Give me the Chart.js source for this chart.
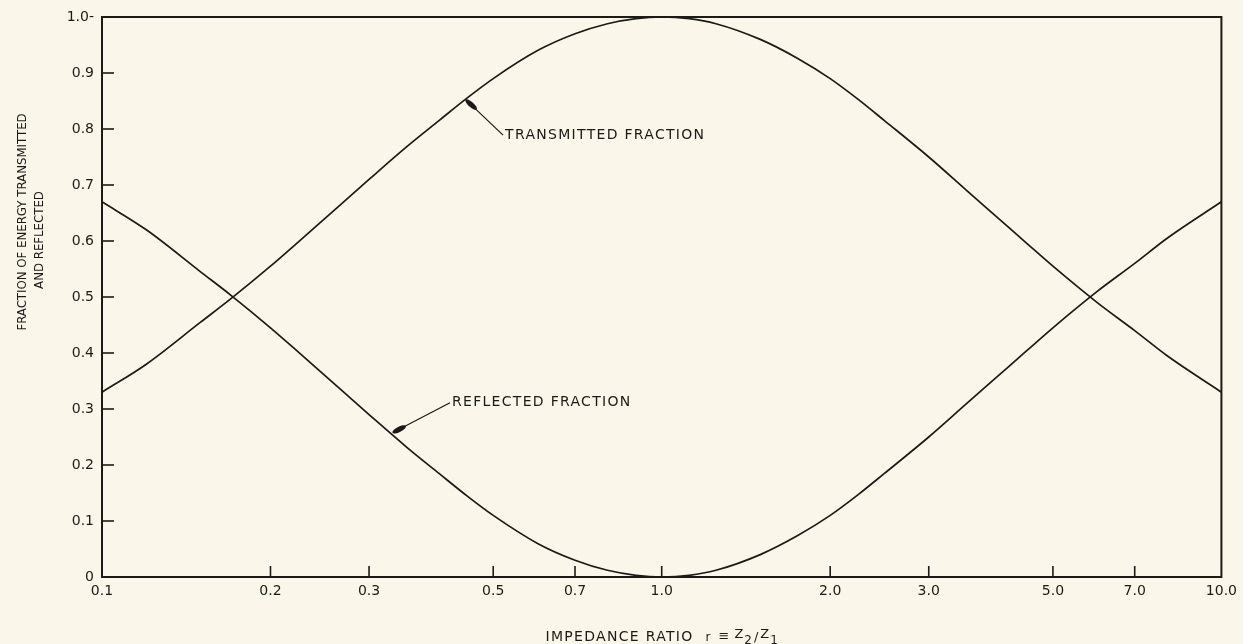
<!DOCTYPE html>
<html>
<head>
<meta charset="utf-8">
<script src="https://cdn.jsdelivr.net/npm/chart.js@4.4.1/dist/chart.umd.min.js"></script>
<style>
  html, body { margin: 0; padding: 0; background: #fbf6ea; }
  #wrap { width: 1243px; height: 644px; }
</style>
</head>
<body>
<div id="wrap"><canvas id="myChart" width="1243" height="644"></canvas></div>
<script>
// values
const impedanceRatios = [0.1, 0.12, 0.15, 0.17, 0.2, 0.22, 0.25, 0.3, 0.35, 0.4, 0.45, 0.5, 0.6, 0.7, 0.8, 0.9, 1.0, 1.12, 1.25, 1.5, 1.75, 2.0, 2.25, 2.5, 3.0, 3.5, 4.0, 4.5, 5.0, 6.0, 7.0, 8.0, 10.0];
const transmittedFraction = [0.33, 0.38, 0.455, 0.497, 0.555, 0.591, 0.64, 0.71, 0.768, 0.815, 0.856, 0.89, 0.94, 0.97, 0.988, 0.997, 1.0, 0.997, 0.988, 0.96, 0.926, 0.89, 0.852, 0.815, 0.75, 0.691, 0.64, 0.595, 0.555, 0.49, 0.44, 0.395, 0.33];
const reflectedFraction = [0.67, 0.62, 0.545, 0.503, 0.445, 0.409, 0.36, 0.29, 0.232, 0.185, 0.144, 0.11, 0.06, 0.03, 0.012, 0.003, 0.0, 0.003, 0.012, 0.04, 0.074, 0.11, 0.148, 0.185, 0.25, 0.309, 0.36, 0.405, 0.445, 0.51, 0.56, 0.605, 0.67];

const xTickValues = [0.1, 0.2, 0.3, 0.5, 0.7, 1, 2, 3, 5, 7, 10];
const xTickLabels = ['0.1', '0.2', '0.3', '0.5', '0.7', '1.0', '2.0', '3.0', '5.0', '7.0', '10.0'];
const yTickLabels = ['0', '0.1', '0.2', '0.3', '0.4', '0.5', '0.6', '0.7', '0.8', '0.9', '1.0-'];

// callouts: text start and arrow tip, in data units
const noteTexts = ['TRANSMITTED FRACTION', 'REFLECTED FRACTION'];
const noteTextAt = [[0.525, 0.789], [0.422, 0.311]];
const noteTipAt = [[0.447, 0.852], [0.331, 0.258]];

const ink = '#1c1a17';
const paper = '#fbf6ea';

function drawLine(ctx, x1, y1, x2, y2) {
  ctx.beginPath();
  ctx.moveTo(x1, y1);
  ctx.lineTo(x2, y2);
  ctx.stroke();
}

const paperPlugin = {
  id: 'paper',
  beforeDraw(chart) {
    const ctx = chart.ctx;
    ctx.save();
    ctx.fillStyle = paper;
    ctx.fillRect(0, 0, chart.width, chart.height);
    ctx.restore();
  },
  afterDraw(chart) {
    const { ctx, chartArea, scales } = chart;
    const { left, right, top, bottom } = chartArea;
    ctx.save();
    ctx.strokeStyle = ink;
    ctx.fillStyle = ink;

    // frame
    ctx.lineWidth = 2;
    ctx.strokeRect(left, top, right - left, bottom - top);

    // inward tick marks
    ctx.lineWidth = 1.6;
    scales.y.ticks.forEach((t) => {
      if (t.value <= 0 || t.value >= 1) return;
      const y = scales.y.getPixelForValue(t.value);
      drawLine(ctx, left, y, left + 12, y);
    });
    scales.x.ticks.forEach((t) => {
      if (t.value <= 0.1 || t.value >= 10) return;
      const x = scales.x.getPixelForValue(t.value);
      drawLine(ctx, x, bottom, x, bottom - 11);
    });

    // callouts with arrows
    ctx.font = '14px "DejaVu Sans"';
    ctx.letterSpacing = '1.3px';
    ctx.textBaseline = 'middle';
    noteTexts.forEach((txt, i) => {
      const tx = scales.x.getPixelForValue(noteTextAt[i][0]);
      const ty = scales.y.getPixelForValue(noteTextAt[i][1]);
      const px = scales.x.getPixelForValue(noteTipAt[i][0]);
      const py = scales.y.getPixelForValue(noteTipAt[i][1]);
      ctx.lineWidth = 1.2;
      drawLine(ctx, px, py, tx - 2, ty);
      const ang = Math.atan2(ty - py, tx - px);
      ctx.beginPath();
      ctx.ellipse(px + Math.cos(ang) * 7, py + Math.sin(ang) * 7, 7.5, 2.6, ang, 0, Math.PI * 2);
      ctx.fill();
      ctx.textAlign = 'left';
      ctx.fillText(txt, tx, ty);
    });

    // x axis title with subscripts
    ctx.textBaseline = 'alphabetic';
    ctx.textAlign = 'left';
    const parts = [
      { t: 'IMPEDANCE RATIO', f: '14px "DejaVu Sans"', s: 1.3, dy: 0, gap: 12 },
      { t: 'r', f: '12px "DejaVu Sans"', s: 0, dy: 0, gap: 8 },
      { t: '\u2261', f: '13px "DejaVu Sans"', s: 0, dy: -1, gap: 5 },
      { t: 'Z', f: '13px "DejaVu Sans"', s: 0, dy: -3, gap: 1 },
      { t: '2', f: '12px "DejaVu Sans"', s: 0, dy: 3, gap: 2 },
      { t: '/', f: '13px "DejaVu Sans"', s: 0, dy: 0, gap: 2 },
      { t: 'Z', f: '13px "DejaVu Sans"', s: 0, dy: -3, gap: 1 },
      { t: '1', f: '12px "DejaVu Sans"', s: 0, dy: 3, gap: 0 }
    ];
    let total = 0;
    parts.forEach((p) => {
      ctx.font = p.f;
      ctx.letterSpacing = p.s + 'px';
      p.w = ctx.measureText(p.t).width;
      total += p.w + p.gap;
    });
    let cx = (left + right) / 2 - total / 2;
    parts.forEach((p) => {
      ctx.font = p.f;
      ctx.letterSpacing = p.s + 'px';
      ctx.fillText(p.t, cx, 641 + p.dy);
      cx += p.w + p.gap;
    });

    // y axis title, two lines
    ctx.font = '12.5px "DejaVu Sans"';
    ctx.letterSpacing = '0px';
    ctx.textAlign = 'center';
    ctx.textBaseline = 'middle';
    ctx.save();
    ctx.translate(23, 222);
    ctx.rotate(-Math.PI / 2);
    ctx.scale(0.94, 1);
    ctx.fillText('FRACTION OF ENERGY TRANSMITTED', 0, 0);
    ctx.restore();
    ctx.save();
    ctx.translate(40, 240);
    ctx.rotate(-Math.PI / 2);
    ctx.scale(0.94, 1);
    ctx.fillText('AND REFLECTED', 0, 0);
    ctx.restore();

    ctx.restore();
  }
};

const ctx = document.getElementById('myChart').getContext('2d');

new Chart(ctx, {
  type: 'line',
  data: {
    datasets: [
      {
        label: 'Transmitted fraction',
        data: impedanceRatios.map((r, i) => ({ x: r, y: transmittedFraction[i] })),
        borderColor: ink,
        borderWidth: 1.7,
        pointRadius: 0,
        fill: false,
        cubicInterpolationMode: 'monotone'
      },
      {
        label: 'Reflected fraction',
        data: impedanceRatios.map((r, i) => ({ x: r, y: reflectedFraction[i] })),
        borderColor: ink,
        borderWidth: 1.7,
        pointRadius: 0,
        fill: false,
        cubicInterpolationMode: 'monotone'
      }
    ]
  },
  options: {
    responsive: false,
    animation: false,
    layout: { padding: { top: 17, right: 18, left: 0, bottom: 0 } },
    plugins: {
      legend: { display: false },
      tooltip: { enabled: false }
    },
    scales: {
      x: {
        type: 'logarithmic',
        min: 0.1,
        max: 10,
        grid: { display: false, drawTicks: false },
        border: { display: false },
        afterBuildTicks: (scale) => {
          scale.ticks = xTickValues.map((v) => ({ value: v }));
        },
        afterFit: (scale) => { scale.height = 67; },
        ticks: {
          autoSkip: false,
          maxRotation: 0,
          padding: 6,
          color: ink,
          font: { family: 'DejaVu Sans', size: 14 },
          callback: (value) => {
            const idx = xTickValues.indexOf(value);
            return idx >= 0 ? xTickLabels[idx] : '';
          }
        }
      },
      y: {
        type: 'linear',
        min: 0,
        max: 1,
        grid: { display: false, drawTicks: false },
        border: { display: false },
        afterFit: (scale) => { scale.width = 102; },
        ticks: {
          stepSize: 0.1,
          padding: 8,
          color: ink,
          font: { family: 'DejaVu Sans', size: 14 },
          callback: (value, index) => yTickLabels[index]
        }
      }
    }
  },
  plugins: [paperPlugin]
});
</script>
</body>
</html>
